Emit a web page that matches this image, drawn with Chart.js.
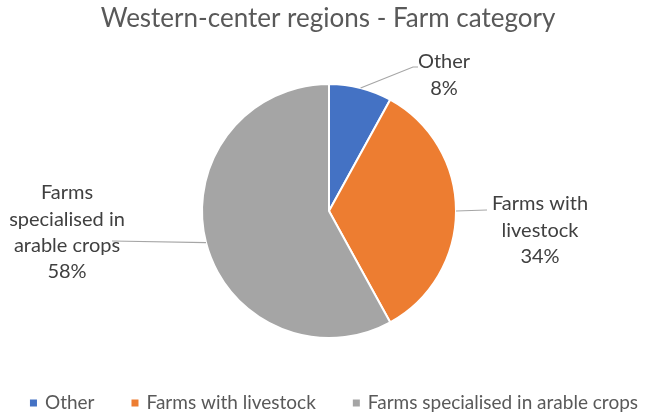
<!DOCTYPE html>
<html>
<head>
<meta charset="utf-8">
<script src="https://cdn.jsdelivr.net/npm/chart.js@4"></script>
<style>
  html, body { margin: 0; padding: 0; background: #ffffff; }
  #wrap { width: 645px; height: 417px; position: relative; }
</style>
</head>
<body>
<div id="wrap"><canvas id="c" width="645" height="417"></canvas></div>
<script>
// ---- data ----
const titleText = 'Western-center regions - Farm category';
const categories = ['Other', 'Farms with livestock', 'Farms specialised in arable crops'];
const shares = [8, 34, 58];
const labelLines = [
  ['Other', '8%'],
  ['Farms with', 'livestock', '34%'],
  ['Farms', 'specialised in', 'arable crops', '58%']
];
const sliceColors = ['#4472C4', '#ED7D31', '#A5A5A5'];

// ---- label layout (text centres and leader elbows) ----
const labelLayout = [
  { cx: 444, y0: 62, elbow: [[413, 67], [418, 67]] },
  { cx: 540, y0: 204, elbow: [[487, 210]] },
  { cx: 67, y0: 193, elbow: [[112, 241]] }
];
const lineGap = 26.3;

const decor = {
  id: 'excelDecor',
  afterDraw(chart) {
    const ctx = chart.ctx;
    ctx.save();
    // title
    ctx.font = '26px Lato';
    ctx.fillStyle = '#595959';
    ctx.textAlign = 'center';
    ctx.textBaseline = 'alphabetic';
    ctx.fillText(titleText, 328, 27);

    // data labels with leader lines
    const meta = chart.getDatasetMeta(0);
    meta.data.forEach((arc, i) => {
      const mid = (arc.startAngle + arc.endAngle) / 2;
      const px = arc.x + arc.outerRadius * Math.cos(mid);
      const py = arc.y + arc.outerRadius * Math.sin(mid);
      const lay = labelLayout[i];
      ctx.strokeStyle = '#A6A6A6';
      ctx.lineWidth = 1.2;
      ctx.beginPath();
      ctx.moveTo(px, py);
      lay.elbow.forEach(p => ctx.lineTo(p[0], p[1]));
      ctx.stroke();
      ctx.font = '20px Lato';
      ctx.fillStyle = '#404040';
      ctx.textAlign = 'center';
      ctx.textBaseline = 'middle';
      labelLines[i].forEach((t, k) => ctx.fillText(t, lay.cx, lay.y0 + k * lineGap));
    });

    // legend
    ctx.font = '19px Lato';
    ctx.textBaseline = 'middle';
    ctx.textAlign = 'left';
    const box = 7, gapBoxText = 8, itemGap = 37, ly = 403;
    const widths = categories.map(t => box + gapBoxText + ctx.measureText(t).width);
    const total = widths.reduce((a, b) => a + b, 0) + itemGap * (categories.length - 1);
    let x = 334 - total / 2;
    categories.forEach((t, i) => {
      ctx.fillStyle = sliceColors[i];
      ctx.fillRect(x, ly - box / 2, box, box);
      ctx.fillStyle = '#595959';
      ctx.fillText(t, x + box + gapBoxText, ly);
      x += widths[i] + itemGap;
    });
    ctx.restore();
  }
};

new Chart(document.getElementById('c'), {
  type: 'pie',
  data: {
    labels: categories,
    datasets: [{
      data: shares,
      backgroundColor: sliceColors,
      borderColor: '#ffffff',
      borderWidth: 2
    }]
  },
  options: {
    responsive: false,
    animation: false,
    layout: { padding: { top: 83, bottom: 78, left: 100, right: 87 } },
    plugins: {
      legend: { display: false },
      title: { display: false },
      tooltip: { enabled: false }
    }
  },
  plugins: [decor]
});
</script>
</body>
</html>
